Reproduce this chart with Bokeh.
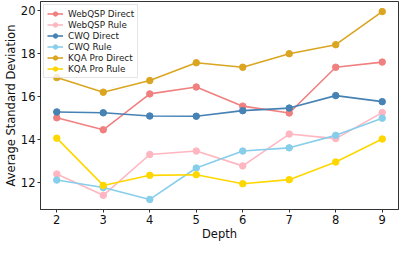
from bokeh.plotting import figure
from bokeh.models import FixedTicker, Legend, LegendItem
from bokeh.embed import file_html
from bokeh.resources import INLINE

depth = [2, 3, 4, 5, 6, 7, 8, 9]
webqsp_direct = [15.03, 14.47, 16.14, 16.46, 15.57, 15.25, 17.38, 17.62]
webqsp_rule = [12.41, 11.42, 13.32, 13.48, 12.79, 14.27, 14.06, 15.27]
cwq_direct = [15.30, 15.26, 15.11, 15.10, 15.36, 15.48, 16.06, 15.78]
cwq_rule = [12.13, 11.78, 11.23, 12.69, 13.48, 13.63, 14.21, 15.01]
kqa_direct = [16.90, 16.22, 16.76, 17.59, 17.38, 18.01, 18.43, 19.97]
kqa_rule = [14.08, 11.88, 12.35, 12.38, 11.96, 12.15, 12.97, 14.04]

series = [
    ("WebQSP Direct", webqsp_direct, "#F08080"),
    ("WebQSP Rule", webqsp_rule, "#FFB6C1"),
    ("CWQ Direct", cwq_direct, "#4682B4"),
    ("CWQ Rule", cwq_rule, "#87CEEB"),
    ("KQA Pro Direct", kqa_direct, "#DAA520"),
    ("KQA Pro Rule", kqa_rule, "#FFD700"),
]
y_ticks = [12, 14, 16, 18, 20]

FONT = "DejaVu Sans"

p = figure(width=399, height=243, output_backend="svg", toolbar_location=None,
           x_range=(1.65, 9.35), y_range=(10.76, 20.44),
           min_border_left=0, min_border_right=1, min_border_top=1, min_border_bottom=0)
p.xgrid.visible = False
p.ygrid.visible = False
p.outline_line_color = "#333333"
p.outline_line_width = 1
p.background_fill_color = "white"
p.border_fill_color = "white"

items = []
for name, vals, col in series:
    r1 = p.line(depth, vals, line_color=col, line_width=1.6)
    r2 = p.scatter(depth, vals, size=6.5, fill_color=col, line_color=col)
    items.append(LegendItem(label=name, renderers=[r1, r2]))

legend = Legend(items=items, location="top_left")
legend.label_text_font = FONT
legend.label_text_font_size = "8.8px"
legend.label_text_color = "#222222"
legend.glyph_width = 16
legend.glyph_height = 11
legend.label_height = 11
legend.spacing = 0
legend.padding = 3
legend.margin = 3
legend.label_standoff = 5
legend.border_line_color = "#cccccc"
legend.border_line_width = 1
legend.background_fill_alpha = 0.8
p.add_layout(legend)

for ax in (p.xaxis[0], p.yaxis[0]):
    ax.major_label_text_font = FONT
    ax.major_label_text_font_size = "11.5px"
    ax.major_label_text_color = "#111111"
    ax.axis_label_text_font = FONT
    ax.axis_label_text_font_size = "11.5px"
    ax.axis_label_text_font_style = "normal"
    ax.axis_label_text_color = "#111111"
    ax.major_tick_in = 0
    ax.major_tick_out = 3
    ax.minor_tick_out = 0
    ax.minor_tick_in = 0
    ax.axis_line_color = "#333333"
    ax.major_tick_line_color = "#333333"
    ax.major_label_standoff = 2
    ax.axis_label_standoff = 0

p.xaxis.ticker = FixedTicker(ticks=depth)
p.yaxis.ticker = FixedTicker(ticks=y_ticks)
p.xaxis.axis_label = "Depth"
p.yaxis.axis_label = "Average Standard Deviation"

open("out.html", "w").write(file_html(p, INLINE))
